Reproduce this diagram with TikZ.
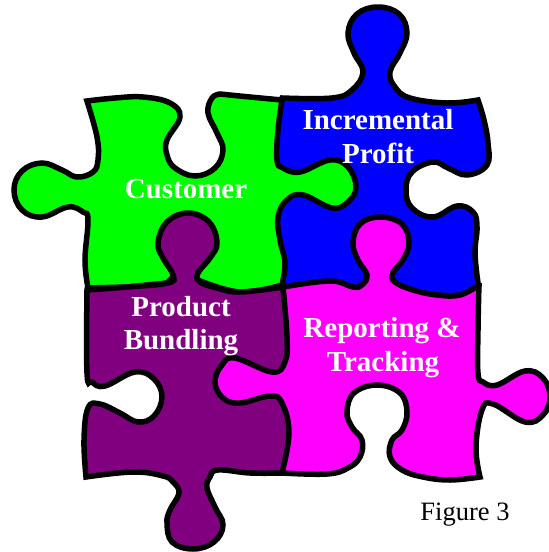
\documentclass[tikz,border=0pt]{standalone}
\usepackage{fontspec}
\setmainfont{Liberation Serif}
\definecolor{pgreen}{RGB}{0,255,0}
\definecolor{pblue}{RGB}{0,0,255}
\definecolor{ppurple}{RGB}{128,0,128}
\definecolor{pmagenta}{RGB}{255,0,255}
\tikzset{
  piece/.style={draw=black,line width=5.5pt,miter limit=4,line join=miter},
  lbl/.style={text=white,font=\fontsize{29}{33}\selectfont\bfseries,anchor=base,inner sep=0pt},
  sm/.style={smooth,tension=0.68}
}
\begin{document}
\begin{tikzpicture}[x=1pt,y=-1pt]
\useasboundingbox (0,0) rectangle (549,552);
% blue
\path[piece,fill=pblue]
  plot[sm] coordinates {(282,98) (332,98) (352,90) (363,72) (354,53) (348,33) (357,14) (378,7) (399,14) (407,33) (400,53) (390,72) (395,87) (410,98) (447,103) (478,100)}
  -- plot[sm] coordinates {(478,100) (484,120) (488,143) (487,165) (467,175) (448,168) (433,162) (412,172) (406,190) (412,208) (433,217) (457,206) (473,212) (477,227) (475,253) (478,283)}
  -- plot[sm] coordinates {(478,287) (460,295) (437,295)} -- (437,305) -- (268,305) -- (268,120) -- cycle;
% green
\path[piece,fill=pgreen]
  plot[sm] coordinates {(87,101) (115,98) (143,97) (170,103) (180,117) (167,140) (167,155) (175,168) (195,176) (215,168) (223,150) (217,133) (208,113) (212,98) (220,94)}
  -- plot[sm] coordinates {(220,94) (250,97) (282,100)}
  -- plot[sm] coordinates {(282,100) (278,130) (277,160) (283,168) (300,172) (330,160) (348,167) (356,187) (348,202) (332,208) (303,195) (287,200) (278,217) (280,240) (285,263) (282,285)}
  -- plot[sm] coordinates {(282,285) (240,292) (198,280)} -- (173,277) -- (167,283) -- (127,287) -- (88,288)
  -- plot[sm] coordinates {(88,288) (85,260) (88,220) (83,212) (68,207) (42,217) (22,210) (14,190) (22,171) (42,163) (62,170) (77,177) (93,172) (98,160) (97,137) (87,101)}
  -- cycle;
% purple
\path[piece,fill=ppurple]
  plot[sm] coordinates {(87,290) (127,287) (168,283) (173,275) (163,258) (158,243) (167,222) (188,213) (209,222) (217,243) (210,258) (198,273) (200,282) (217,288) (240,292) (283,287)}
  -- (290,350) -- (292,450) -- (282,473)
  -- plot[sm] coordinates {(282,473) (250,473) (218,470) (210,477) (207,488) (215,507) (223,525) (214,542) (193,549) (172,542) (167,523) (170,510) (179,493) (173,482) (163,476) (133,472) (86,477)}
  -- plot[sm] coordinates {(86,477) (84,440) (88,408) (100,404) (120,413) (138,422) (154,416) (162,397) (154,379) (135,372) (105,386) (92,382) (87,373) (87,290)}
  -- cycle;
% magenta
\path[piece,fill=pmagenta]
  plot[sm] coordinates {(283,287) (330,281) (353,287) (362,285) (367,275) (358,260) (353,243) (360,224) (380,217) (402,224) (409,243) (403,260) (393,273) (395,282) (413,290) (437,295) (460,295) (479,285)}
  -- plot[sm] coordinates {(479,283) (478,330) (478,373) (483,382) (497,385) (525,371) (543,378) (550,397) (543,415) (525,422) (493,404) (482,410) (476,447) (480,477)}
  -- plot[sm] coordinates {(480,477) (450,480) (423,477) (402,470) (390,457) (392,440) (402,430) (407,412) (400,393) (377,385) (354,393) (347,412) (352,427) (362,440) (360,457) (348,468) (327,474) (282,473)}
  -- plot[sm] coordinates {(282,473) (289,433) (282,403) (270,396) (240,403) (223,398) (215,382) (222,365) (235,358) (272,372) (285,362) (287,337) (283,287)}
  -- cycle;
% labels
\node[lbl] (customer) at (186,198) {Customer};
\node[lbl] (incr) at (378,129) {Incremental};
\node[lbl] (profit) at (378,163) {Profit};
\node[lbl] (product) at (181,316) {Product};
\node[lbl] (bundling) at (181,349) {Bundling};
\node[lbl] (reporting) at (382,337) {Reporting \&};
\node[lbl] (tracking) at (383,371) {Tracking};
\node[anchor=base,inner sep=0pt,font=\fontsize{26.5}{30}\selectfont] (fig) at (465,520) {Figure 3};
\end{tikzpicture}
\end{document}
